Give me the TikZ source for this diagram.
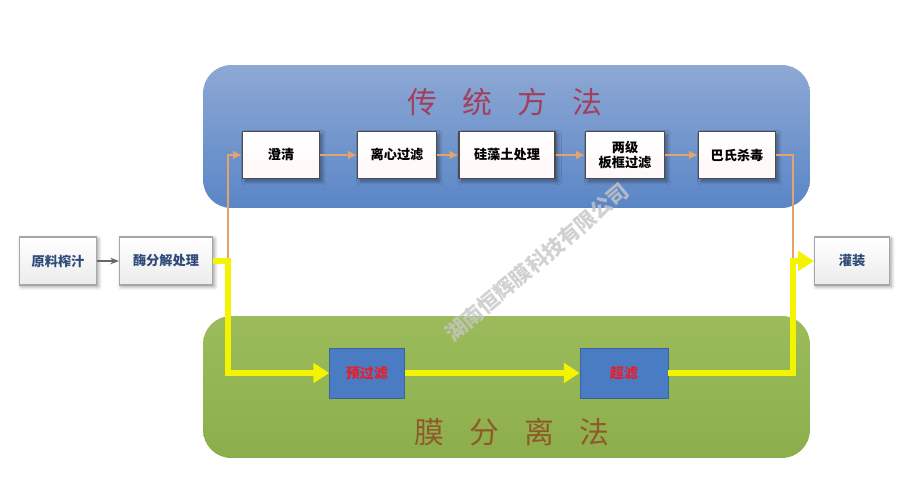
\documentclass[tikz,border=0pt]{standalone}
\usepackage{fontspec}
\setmainfont{Noto Sans CJK SC}
\usetikzlibrary{arrows.meta, positioning, calc, shadows.blur}
\definecolor{panelblue}{HTML}{5A86C6}
\definecolor{paneltop}{HTML}{8DA8D4}
\definecolor{panelgreen}{HTML}{8CAE4A}
\definecolor{greentop}{HTML}{9CBC5C}
\definecolor{titlered}{HTML}{A33E5C}
\definecolor{titlebrown}{HTML}{8E5A2C}
\definecolor{pipeorange}{HTML}{E2A36E}
\definecolor{pipeyellow}{HTML}{F4F400}
\definecolor{navytext}{HTML}{2E4A78}
\definecolor{boxblue}{HTML}{4A7CC4}
\definecolor{stepred}{HTML}{E4202C}

\tikzset{
  panel/.style={rounded corners=16pt, draw=none},
  stepbox/.style={draw=black!70, line width=0.6pt, top color=white, bottom color=pink!12,
      minimum height=0.94cm, align=center, inner sep=1pt, font=\bfseries\fontsize{7.5}{9}\selectfont,
      blur shadow={shadow blur steps=4, shadow xshift=1.5pt, shadow yshift=-1.5pt}},
  sidebox/.style={draw=gray!70, line width=0.6pt, top color=white, bottom color=gray!15,
      minimum height=0.96cm, text=navytext, font=\bfseries\fontsize{7.5}{9}\selectfont,
      blur shadow={shadow blur steps=4, shadow xshift=1pt, shadow yshift=-1pt}},
  membox/.style={draw=boxblue!80!black, fill=boxblue, minimum height=1cm,
      text=stepred, font=\bfseries\fontsize{8}{10}\selectfont},
  orangepipe/.style={draw=pipeorange, line width=1.2pt, -{Latex[length=5pt, width=5pt]}},
  yellowpipe/.style={draw=pipeyellow, line width=3.2pt, -{Triangle[length=9pt, width=11pt]}}
}

\begin{document}
\begin{tikzpicture}[x=0.02cm, y=-0.02cm]
\useasboundingbox (0,0) rectangle (900,500);

% Panels
\node[panel, top color=paneltop, bottom color=panelblue, minimum width=12.14cm, minimum height=2.86cm]
      (tradpanel) at (506.5,136.5) {};
\node[panel, top color=greentop, bottom color=panelgreen, minimum width=12.14cm, minimum height=2.84cm]
      (mempanel) at (506.5,387) {};

% Titles
\node[text=titlered, font=\fontsize{17}{20}\selectfont] (tradtitle) at (505,102)
      {传\hspace{0.85em}统\hspace{0.85em}方\hspace{0.85em}法};
\node[text=titlebrown, font=\fontsize{17}{20}\selectfont] (memtitle) at (512,432)
      {膜\hspace{0.85em}分\hspace{0.85em}离\hspace{0.85em}法};

% Side boxes
\node[sidebox, minimum width=1.54cm] (raw) at (58,261) {原料榨汁};
\node[sidebox, minimum width=1.86cm] (enzyme) at (166,261) {酶分解处理};
\node[sidebox, minimum width=1.5cm] (fill) at (852,261) {灌装};

% Traditional steps
\node[stepbox, minimum width=1.54cm] (clarify) at (281,155) {澄清};
\node[stepbox, minimum width=1.58cm] (centri) at (397,155) {离心过滤};
\node[stepbox, minimum width=1.92cm] (diato) at (507,155) {硅藻土处理};
\node[stepbox, minimum width=1.58cm] (plate) at (625,155) {两级\\板框过滤};
\node[stepbox, minimum width=1.54cm] (pasteur) at (737,155) {巴氏杀毒};

% Membrane steps
\node[membox, minimum width=1.5cm] (prefilt) at (367,373) {预过滤};
\node[membox, minimum width=1.76cm] (ultra) at (624,373) {超滤};

\coordinate (split) at (228,261);
\coordinate (merge) at (793,261);

% Connectors
\draw[gray!80!black, line width=0.8pt, -{Stealth[length=5pt]}] (raw) -- (enzyme);
\draw[orangepipe] (split) |- (clarify.west);
\draw[orangepipe] (clarify) -- (centri);
\draw[orangepipe] (centri) -- (diato);
\draw[orangepipe] (diato) -- (plate);
\draw[orangepipe] (plate) -- (pasteur);
\draw[draw=pipeorange, line width=1.2pt] (pasteur.east) -| (merge);
\draw[yellowpipe] (enzyme.east) -- (split) |- (prefilt.west);
\draw[yellowpipe] (prefilt) -- (ultra);
\draw[yellowpipe] (ultra.east) -| (merge) -- (fill.west);

% Watermark
\node[text=gray!45, opacity=0.8, rotate=40, font=\bfseries\fontsize{12}{14}\selectfont] (mark) at (537,262)
      {湖南恒辉膜科技有限公司};

\end{tikzpicture}
\end{document}
